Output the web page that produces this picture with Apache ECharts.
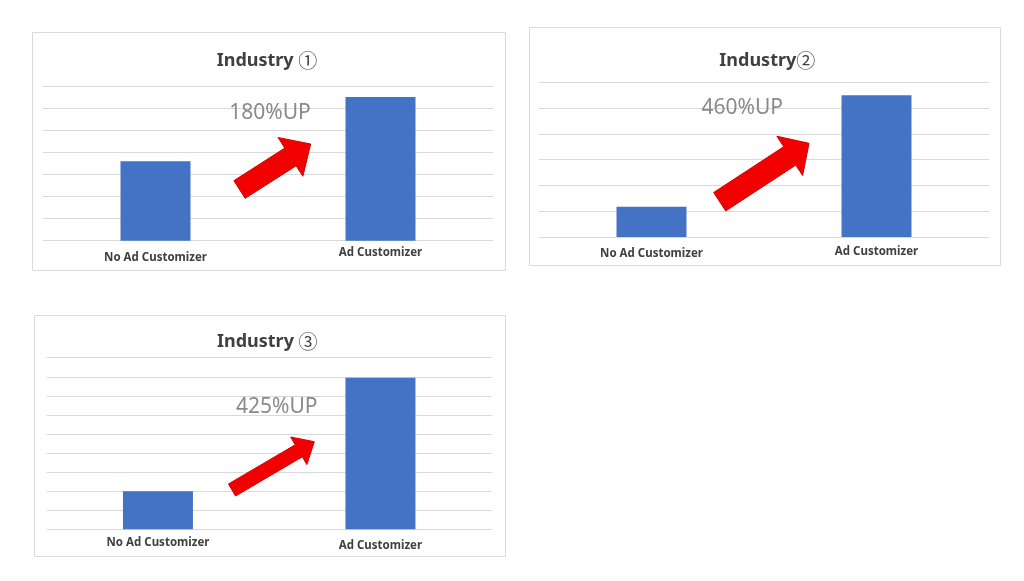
<!DOCTYPE html>
<html><head><meta charset="utf-8">
<script src="https://cdn.jsdelivr.net/npm/echarts@6/dist/echarts.min.js"></script>
<style>html,body{margin:0;padding:0;background:#fff}#c{width:1024px;height:581px}</style>
</head><body><div id="c"></div>
<script>
// ---- data ----
const categories = ['No Ad Customizer', 'Ad Customizer'];
const industry1 = [3.6, 6.5];
const industry2 = [1.17, 5.5];
const industry3 = [2.0, 7.95];
const panelTitles = ['Industry ①', 'Industry②', 'Industry ③'];
const upLabels = ['180%UP', '460%UP', '425%UP'];
const axisMax = [7, 6, 9];
const seriesData = [industry1, industry2, industry3];

// ---- layout (styling only) ----
const panels = [
  { grid: {left: 43, top: 86, width: 450, height: 154.7},
    frame: [32, 32, 473, 238], title: [267, 61], up: [270, 112.7],
    labelOff: [17, 12.3],
    arrow: {tail: [239.5, 189.5], tip: [310.7, 144], sw: 21, hw: 46, hl: 24} },
  { grid: {left: 539, top: 82.3, width: 450, height: 154.7},
    frame: [529, 27, 471, 238], title: [767.3, 61], up: [742.3, 108.3],
    labelOff: [17, 14.7],
    arrow: {tail: [719.7, 201.7], tip: [809, 143.3], sw: 22, hw: 47, hl: 23} },
  { grid: {left: 46.7, top: 357.7, width: 445, height: 171.6},
    frame: [34, 315, 471, 241], title: [267.3, 341.5], up: [276.7, 407.3],
    labelOff: [13, 16.4],
    arrow: {tail: [232, 490], tip: [314.3, 441.7], sw: 14, hw: 32, hl: 18} }
];

function arrowPoints(t, p, sw, hw, hl) {
  const dx = p[0] - t[0], dy = p[1] - t[1], L = Math.hypot(dx, dy);
  const ux = dx / L, uy = dy / L, nx = -uy, ny = ux;
  const b = [p[0] - ux * hl, p[1] - uy * hl];
  return [
    [t[0] + nx * sw / 2, t[1] + ny * sw / 2],
    [b[0] + nx * sw / 2, b[1] + ny * sw / 2],
    [b[0] + nx * hw / 2, b[1] + ny * hw / 2],
    p,
    [b[0] - nx * hw / 2, b[1] - ny * hw / 2],
    [b[0] - nx * sw / 2, b[1] - ny * sw / 2],
    [t[0] - nx * sw / 2, t[1] - ny * sw / 2]
  ];
}

function richTitle(s) {
  const m = s.match(/^(.*?)([\u2460-\u2473])$/);
  return m ? `{t|${m[1]}}{c|${m[2]}}` : `{t|${s}}`;
}

const FONT = "'Noto Sans', 'Liberation Sans', sans-serif";
const TXT = '#404040';

const chart = echarts.init(document.getElementById('c'), null, {renderer: 'canvas'});

const graphic = [];
panels.forEach((p, i) => {
  graphic.push({type: 'rect', z: -10, silent: true,
    shape: {x: p.frame[0] + 0.5, y: p.frame[1] + 0.5, width: p.frame[2], height: p.frame[3]},
    style: {fill: '#fff', stroke: '#d9d9d9', lineWidth: 1}});
  graphic.push({type: 'text', z: 10, silent: true, x: p.up[0], y: p.up[1],
    style: {text: upLabels[i], fill: '#8a8a8a', font: '21px ' + FONT, align: 'center', verticalAlign: 'middle'}});
  const a = p.arrow;
  graphic.push({type: 'polygon', z: 10, silent: true,
    shape: {points: arrowPoints(a.tail, a.tip, a.sw, a.hw, a.hl)},
    style: {fill: '#f20000', stroke: '#d40000', lineWidth: 1}});
});

function labelRich(off) {
  const base = {fontFamily: FONT, fontSize: 11.5, fontWeight: 'bold', color: TXT};
  return {
    l0: Object.assign({}, base, {lineHeight: off[0] * 2}),
    l1: Object.assign({}, base, {lineHeight: off[1] * 2})
  };
}

const titleBase = {fontFamily: FONT, fontSize: 18, fontWeight: 'bold', color: TXT, lineHeight: 24};
const option = {
  backgroundColor: '#fff',
  animation: false,
  title: panels.map((p, i) => ({
    text: richTitle(panelTitles[i]),
    left: p.title[0], top: p.title[1], padding: 0,
    textAlign: 'center', textVerticalAlign: 'middle',
    textStyle: Object.assign({}, titleBase, {
      rich: {
        t: titleBase,
        c: {fontFamily: "'Noto Sans CJK JP', 'DejaVu Sans', sans-serif", fontSize: 19,
            fontWeight: 'normal', color: TXT, lineHeight: 24}
      }
    })
  })),
  grid: panels.map(p => Object.assign({containLabel: false}, p.grid)),
  xAxis: panels.map((p, i) => ({
    type: 'category', gridIndex: i, data: categories,
    axisLine: {show: false}, axisTick: {show: false},
    axisLabel: {interval: 0, margin: 0, verticalAlign: 'top',
      formatter: (v, idx) => `{l${idx}|${v}}`, rich: labelRich(p.labelOff)}
  })),
  yAxis: panels.map((p, i) => ({
    type: 'value', gridIndex: i, min: 0, max: axisMax[i], interval: 1,
    axisLine: {show: false}, axisTick: {show: false}, axisLabel: {show: false},
    splitLine: {show: true, lineStyle: {color: '#d9d9d9', width: 1}}
  })),
  series: seriesData.map((d, i) => ({
    type: 'bar', xAxisIndex: i, yAxisIndex: i, data: d, barWidth: 70,
    itemStyle: {color: '#4472C4'}, z: 3
  })),
  graphic: graphic
};
chart.setOption(option);
</script></body></html>
